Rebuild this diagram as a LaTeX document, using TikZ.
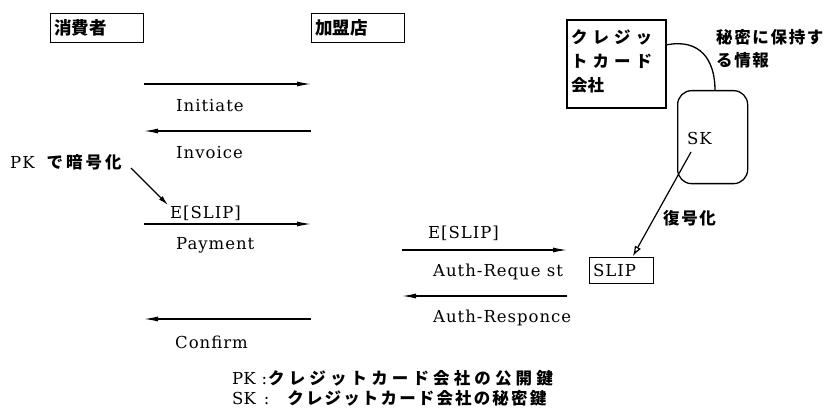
\documentclass[tikz,border=0pt]{standalone}
\usepackage{fontspec}
\setmainfont{DejaVu Serif}
\newfontfamily\jp{Noto Sans CJK JP}
\usetikzlibrary{arrows.meta}
\newcommand{\latf}{\fontsize{16.5}{18}\selectfont}
\newcommand{\jpf}{\jp\bfseries\fontsize{16.5}{18}\selectfont}
\begin{document}
\begin{tikzpicture}[x=1pt,y=-1pt,
  lbl/.style={font=\latf\addfontfeature{LetterSpace=6}, inner sep=0pt, anchor=west},
  jtx/.style={font=\jpf, inner sep=0pt, anchor=west},
  actor/.style={draw, line width=1.3pt, anchor=north west, minimum height=29pt, text width=86pt, inner xsep=3.5pt, inner ysep=0pt, align=left, font=\jp\bfseries\fontsize{17.5}{18}\selectfont},
  msg/.style={line width=1.2pt, -{Latex[length=14pt,width=5pt]}},
]
\useasboundingbox (0,0) rectangle (839,409);

% actors
\node[actor] (cons) at (50,13) {消費者};
\node[actor] (merc) at (311,13) {加盟店};

% lifeline coordinates
\coordinate (c1) at (144,84);  \coordinate (m1) at (311,84);
\coordinate (c2) at (144,131); \coordinate (m2) at (311,131);
\coordinate (c3) at (144,224); \coordinate (m3) at (311,224);
\coordinate (c4) at (144,319); \coordinate (m4) at (311,319);

\draw[msg] (c1) -- (m1);
\draw[msg] (m2) -- (c2);
\draw[msg] (c3) -- (m3);
\draw[msg] (m4) -- (c4);

\node[lbl] (linit) at (176,106) {Initiate};
\node[lbl] (linv) at (176,153) {Invoice};
\node[lbl] (le1) at (170,213) {E[SLIP]};
\node[lbl] (lpay) at (176,245) {Payment};
\node[lbl] (lconf) at (175,342) {Confirm};

% PK encryption note
\node[anchor=west, inner sep=0pt] (pknote) at (10,162)
  {\latf\addfontfeature{LetterSpace=6}PK\hspace{12pt}{\jpf\addfontfeature{LetterSpace=18}で暗号化}};
\coordinate (pkstart) at (131,168);
\coordinate (pktip) at (168,205);
\draw[line width=1.2pt, -{Latex[length=10pt,width=5pt]}] (pkstart) -- (pktip);

% merchant - card company
\coordinate (r1a) at (402,250); \coordinate (r1b) at (567,250);
\coordinate (r2a) at (402,296); \coordinate (r2b) at (567,296);
\draw[msg] (r1a) -- (r1b);
\draw[msg] (r2b) -- (r2a);
\node[lbl] (le2) at (428,233) {E[SLIP]};
\node[lbl] (lreq) at (433,272) {Auth-Reque st};
\node[lbl] (lres) at (433,318) {Auth-Responce};

% credit card company
\draw[line width=1.3pt] (567,20) rectangle (666,108);
\node[jtx, font=\jpf\addfontfeature{LetterSpace=30}] (cc1) at (571,37) {クレジッ};
\node[jtx, font=\jpf\addfontfeature{LetterSpace=30}] (cc2) at (571,61) {トカード};
\node[jtx] (cc3) at (571,85) {会社};
\coordinate (ccr) at (666,45);

\node[draw, line width=1.3pt, rounded corners=14pt, anchor=north west, minimum width=70pt, minimum height=93pt, inner sep=0pt] (secret) at (677,90) {};
\coordinate (sectop) at (715,90);
\draw[line width=1.3pt] (ccr) .. controls (700,38) and (715,60) .. (sectop);
\node[jtx, font=\jpf\addfontfeature{LetterSpace=10}] (keep1) at (716,37) {秘密に保持す};
\node[jtx, font=\jpf\addfontfeature{LetterSpace=10}] (keep2) at (716,60) {る情報};

\node[lbl] (sk) at (687,138) {SK};
\node[draw, line width=1.3pt, anchor=north west, minimum width=64pt, minimum height=26pt, text width=57pt, inner xsep=3.5pt, inner ysep=0pt, align=left, font=\latf\addfontfeature{LetterSpace=6}] (slip) at (589,257) {SLIP};
\coordinate (skfoot) at (691,152);
\coordinate (sliptip) at (633,256);
\draw[line width=1.2pt, -{Latex[open,length=10pt,width=7pt]}] (skfoot) -- (sliptip);
\node[jtx, font=\jpf\addfontfeature{LetterSpace=10}] (dec) at (663,218) {復号化};

% legend
\node[anchor=west, inner sep=0pt] (leg1) at (232,378)
  {\latf PK\hspace{6pt}:\hspace{1pt}{\jpf\addfontfeature{LetterSpace=25}クレジットカード会社の公開鍵}};
\node[anchor=west, inner sep=0pt] (leg2) at (232,398)
  {\latf SK\hspace{8pt}:\hspace{18pt}{\jpf\addfontfeature{LetterSpace=13}クレジットカード会社の秘密鍵}};
\end{tikzpicture}
\end{document}
